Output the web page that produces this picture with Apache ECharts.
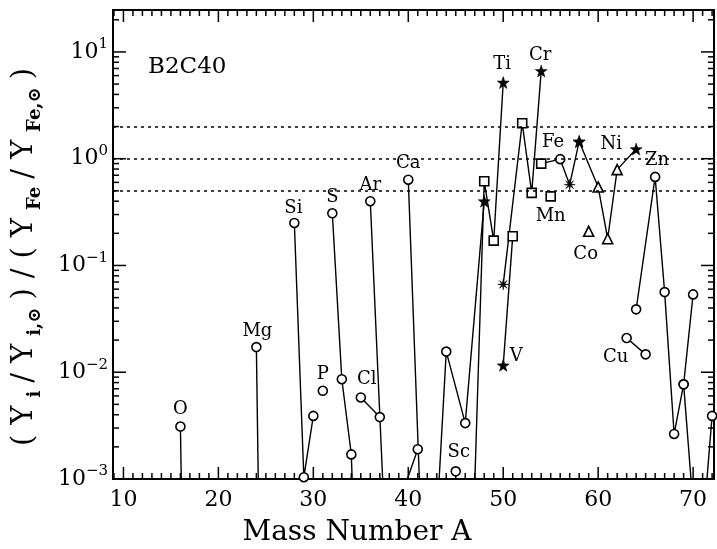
<!DOCTYPE html>
<html>
<head>
<meta charset="utf-8">
<script src="https://cdn.jsdelivr.net/npm/echarts@6/dist/echarts.min.js"></script>
<style>
html, body { margin: 0; background: #fff; }
#chart { width: 717px; height: 549px; }
</style>
</head>
<body>
<div id="chart"></div>
<script>
// isotope mass numbers, ratios and marker kinds per element chain
// marker kinds: o circle, s square, t triangle, k star, a asterisk
const oMass = [16, 17, 18],               oVal = [3.1e-3, 1e-8, 1e-8],                         oMark = 'ooo';
const mgMass = [24, 25, 26],              mgVal = [0.0172, 1e-8, 1e-8],                        mgMark = 'ooo';
const siMass = [28, 29, 30],              siVal = [0.25, 1.04e-3, 3.9e-3],                     siMark = 'ooo';
const pMass = [31],                       pVal = [6.7e-3],                                     pMark = 'o';
const sMass = [32, 33, 34, 36],           sVal = [0.308, 8.6e-3, 1.7e-3, 1e-8],                sMark = 'oooo';
const clMass = [35, 37],                  clVal = [5.8e-3, 3.8e-3],                            clMark = 'oo';
const arMass = [36, 38, 40],              arVal = [0.40, 4e-5, 1e-6],                          arMark = 'ooo';
const kMass = [39, 41],                   kVal = [5.9e-4, 1.9e-3],                             kMark = 'oo';
const caMass = [40, 42, 43, 44, 46, 48],  caVal = [0.636, 1e-5, 4e-4, 0.0156, 3.34e-3, 0.40], caMark = 'oooook';
const scMass = [45],                      scVal = [1.18e-3],                                   scMark = 'o';
const tiMass = [46, 47, 48, 49, 50],      tiVal = [1e-5, 9e-4, 0.614, 0.171, 5.17],            tiMark = 'ssssk';
const vMass = [50, 51],                   vVal = [0.0116, 0.188],                              vMark = 'ks';
const crMass = [50, 52, 53, 54],          crVal = [0.0664, 2.15, 0.478, 6.64],                 crMark = 'assk';
const mnMass = [55],                      mnVal = [0.444],                                     mnMark = 's';
const feMass = [54, 56, 57, 58],          feVal = [0.90, 0.99, 0.571, 1.45],                   feMark = 'soak';
const coMass = [59],                      coVal = [0.209],                                     coMark = 't';
const niMass = [58, 60, 61, 62, 64],      niVal = [1.45, 0.544, 0.178, 0.79, 1.23],            niMark = 'ktttk';
const cuMass = [63, 65],                  cuVal = [0.0209, 0.0147],                            cuMark = 'oo';
const znMass = [64, 66, 67, 68, 69, 70],  znVal = [0.0388, 0.675, 0.0563, 2.64e-3, 7.7e-3, 0.0536], znMark = 'oooooo';
const gaMass = [69, 71],                  gaVal = [7.7e-3, 4e-5],                              gaMark = 'oo';
const geMass = [70, 72],                  geVal = [2.6e-5, 3.9e-3],                            geMark = 'oo';

const chains = [
  ['O', oMass, oVal, oMark], ['Mg', mgMass, mgVal, mgMark], ['Si', siMass, siVal, siMark],
  ['P', pMass, pVal, pMark], ['S', sMass, sVal, sMark], ['Cl', clMass, clVal, clMark],
  ['Ar', arMass, arVal, arMark], ['K', kMass, kVal, kMark], ['Ca', caMass, caVal, caMark],
  ['Sc', scMass, scVal, scMark], ['Ti', tiMass, tiVal, tiMark], ['V', vMass, vVal, vMark],
  ['Cr', crMass, crVal, crMark], ['Mn', mnMass, mnVal, mnMark], ['Fe', feMass, feVal, feMark],
  ['Co', coMass, coVal, coMark], ['Ni', niMass, niVal, niMark], ['Cu', cuMass, cuVal, cuMark],
  ['Zn', znMass, znVal, znMark], ['Ga', gaMass, gaVal, gaMark], ['Ge', geMass, geVal, geMark]
];

// tick values and reference levels
const xMajor = [10, 20, 30, 40, 50, 60, 70];
const xMinor = [];
for (let a = 9; a <= 72; a++) if (a % 10) xMinor.push(a);
const yMajor = [1e-3, 1e-2, 1e-1, 1, 10];
const yMinor = [];
yMajor.forEach(d => { for (let k = 2; k <= 9; k++) if (d * k < 24) yMinor.push(+(d * k).toPrecision(2)); });
const refLevels = [0.5, 1, 2];

// where each element name sits, relative to one of its points (px)
const tags = {
  O: {at: 16, dx: 0, dy: -17}, Mg: {at: 24, dx: 1, dy: -16}, Si: {at: 28, dx: -1, dy: -15},
  P: {at: 31, dx: 0, dy: -16}, S: {at: 32, dx: 0, dy: -16}, Cl: {at: 35, dx: 6, dy: -18},
  Ar: {at: 36, dx: 0, dy: -16}, Ca: {at: 40, dx: 0, dy: -16}, Sc: {at: 45, dx: 3, dy: -19},
  Ti: {at: 50, dx: -1, dy: -18}, V: {at: 50, dx: 13, dy: -9}, Cr: {at: 54, dx: -1, dy: -16},
  Mn: {at: 55, dx: 0, dy: 20}, Fe: {at: 56, dx: -7, dy: -17}, Co: {at: 59, dx: -3, dy: 23},
  Ni: {at: 62, dx: -6, dy: -25}, Cu: {at: 63, dx: -11, dy: 19}, Zn: {at: 66, dx: 2, dy: -17}
};

const FONT = 'DejaVu Serif';

function starPath(n, r1, r2) {
  let d = '';
  for (let i = 0; i < 2 * n; i++) {
    const r = i % 2 ? r2 : r1;
    const ang = Math.PI * i / n - Math.PI / 2;
    d += (i ? 'L' : 'M') + (r * Math.cos(ang)).toFixed(2) + ',' + (r * Math.sin(ang)).toFixed(2);
  }
  return 'path://' + d + 'Z';
}

const SYM = {
  o: {symbol: 'circle', size: 9, fill: '#fff', bw: 1.6},
  s: {symbol: 'rect', size: 9, fill: '#fff', bw: 1.6},
  t: {symbol: 'triangle', size: 10, fill: '#fff', bw: 1.6},
  k: {symbol: starPath(5, 10, 4), size: 12, fill: '#000', bw: 0.5},
  a: {symbol: starPath(8, 10, 3), size: 11, fill: '#000', bw: 0.5}
};

const series = chains.map(([name, mass, val, mark]) => ({
  type: 'line',
  name: name,
  lineStyle: {color: '#000', width: 1.4},
  emphasis: {disabled: true},
  data: mass.map((m, i) => {
    const s = SYM[mark[i]];
    const item = {
      value: [m, val[i]],
      symbol: s.symbol,
      symbolSize: s.size,
      itemStyle: {color: s.fill, borderColor: '#000', borderWidth: s.bw}
    };
    const t = tags[name];
    if (t && t.at === m) {
      item.label = {
        show: true, position: 'inside', offset: [t.dx, t.dy], formatter: name,
        color: '#000', fontFamily: FONT, fontSize: 18, textBorderWidth: 0
      };
    }
    return item;
  })
}));

// dotted reference levels
series[0].markLine = {
  silent: true,
  symbol: 'none',
  label: {show: false},
  lineStyle: {color: '#000', width: 1.6, type: [3, 4]},
  data: refLevels.map(v => ({yAxis: v}))
};

// frame ticks placed through the axes' scales
function tickSeries(values, side, len) {
  const vertical = side === 'bottom' || side === 'top';
  return {
    type: 'custom',
    data: values.map(v => vertical ? [v, 1] : [40, v]),
    renderItem: (params, api) => {
      const cs = params.coordSys;
      const p = api.coord([api.value(0), api.value(1)]);
      const bottom = cs.y + cs.height, right = cs.x + cs.width;
      let shape;
      if (side === 'bottom') shape = {x1: p[0], y1: bottom, x2: p[0], y2: bottom - len};
      else if (side === 'top') shape = {x1: p[0], y1: cs.y, x2: p[0], y2: cs.y + len};
      else if (side === 'left') shape = {x1: cs.x, y1: p[1], x2: cs.x + len, y2: p[1]};
      else shape = {x1: right, y1: p[1], x2: right - len, y2: p[1]};
      return {type: 'line', shape: shape, style: {stroke: '#000', lineWidth: 1.5}};
    }
  };
}
['bottom', 'top'].forEach(side => {
  series.push(tickSeries(xMajor, side, 12));
  series.push(tickSeries(xMinor, side, 6));
});
['left', 'right'].forEach(side => {
  series.push(tickSeries(yMajor, side, 13));
  series.push(tickSeries(yMinor, side, 6));
});

const isMajorY = v => yMajor.some(m => Math.abs(v / m - 1) < 1e-6);

const option = {
  animation: false,
  grid: {left: 113, right: 3, top: 10, bottom: 70, show: true, borderColor: '#000', borderWidth: 2},
  xAxis: {
    type: 'value', min: 8.9, max: 72.2,
    axisLine: {show: true, lineStyle: {color: '#000', width: 2}},
    splitLine: {show: false}, axisTick: {show: false},
    axisLabel: {
      color: '#000', fontFamily: FONT, fontSize: 22, margin: 10,
      formatter: v => (xMajor.indexOf(v) >= 0 ? String(v) : '')
    }
  },
  yAxis: {
    type: 'log', min: 0.001, max: 24.7,
    axisLine: {show: true, lineStyle: {color: '#000', width: 2}},
    splitLine: {show: false}, axisTick: {show: false},
    axisLabel: {
      margin: 5,
      formatter: v => isMajorY(v)
        ? '{b|10}{e|' + String(Math.round(Math.log10(v))).replace('-', '\u2212') + '}'
        : '',
      rich: {
        b: {fontFamily: FONT, fontSize: 22, lineHeight: 30, color: '#000'},
        e: {fontFamily: FONT, fontSize: 15, lineHeight: 14, verticalAlign: 'top', color: '#000'}
      }
    }
  },
  graphic: [
    {
      type: 'text', x: 148, y: 67, silent: true,
      style: {text: 'B2C40', fontFamily: FONT, fontSize: 23, fill: '#000', align: 'left', verticalAlign: 'middle'}
    },
    {
      type: 'text', x: 357, y: 533, silent: true,
      style: {text: 'Mass Number A', fontFamily: FONT, fontSize: 28, fill: '#000', align: 'center', verticalAlign: 'middle'}
    },
    {
      type: 'text', x: 24, y: 257, rotation: Math.PI / 2, silent: true,
      style: {
        text: '{m|(}{m|Y}{s|i}{m|/}{m|Y}{s|i,\u2299}{m|)}{m|/}{m|(}{m|Y}{s|Fe}{m|/}{m|Y}{s|Fe,\u2299}{m|)}',
        align: 'center', verticalAlign: 'middle',
        rich: {
          m: {fontFamily: FONT, fontSize: 29, lineHeight: 40, padding: [0, 5], fill: '#000'},
          s: {fontFamily: FONT, fontSize: 18, fontWeight: 'bold', lineHeight: 20, padding: [0, 3],
              verticalAlign: 'bottom', fill: '#000'}
        }
      }
    }
  ],
  series: series
};

echarts.init(document.getElementById('chart')).setOption(option);
</script>
</body>
</html>
